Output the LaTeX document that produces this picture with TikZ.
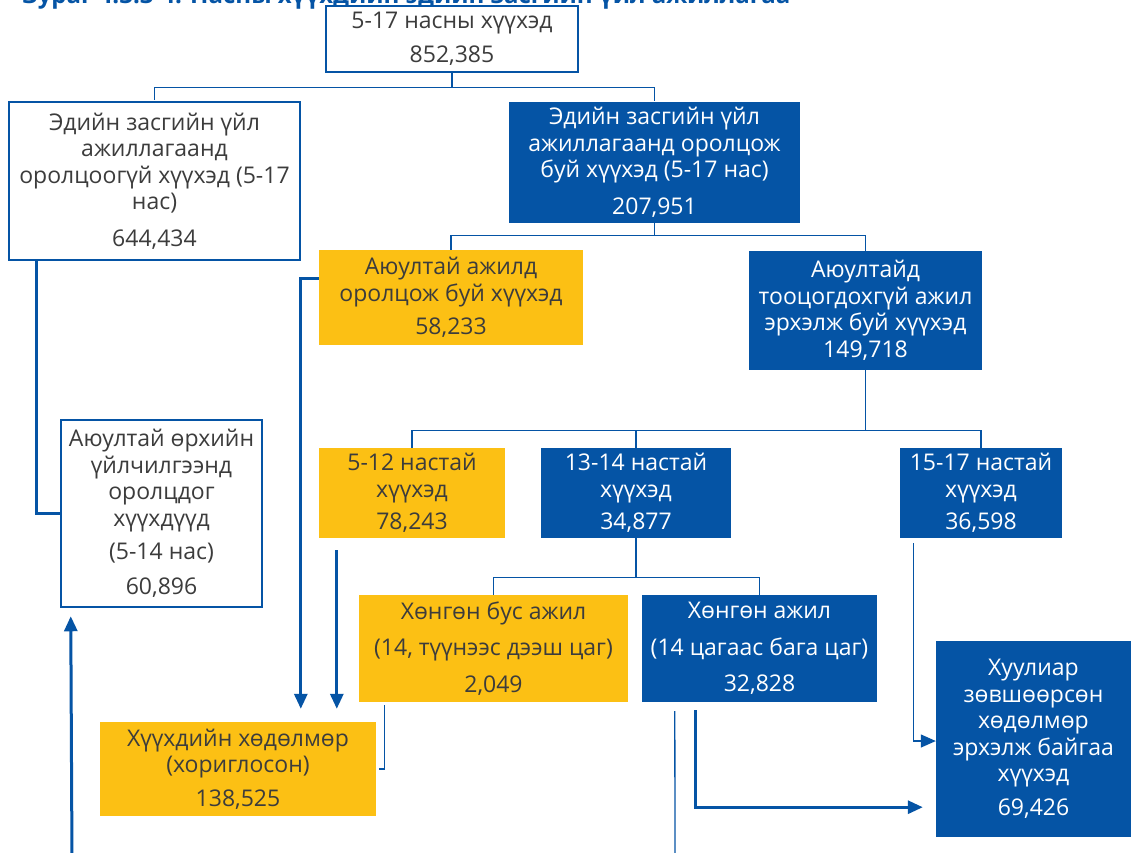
\documentclass[tikz,border=0pt]{standalone}
\usepackage{fontspec}
\setmainfont{Open Sans}
\usetikzlibrary{arrows.meta,calc}
\definecolor{cblue}{RGB}{5,84,165}
\definecolor{cyel}{RGB}{252,192,20}
\definecolor{ctext}{RGB}{60,60,60}
\tikzset{
 box/.style={rectangle, inner sep=0pt, align=center, font=\fontsize{23}{26.5}\selectfont},
 wbox/.style={box, draw=cblue, line width=2.5pt, fill=white, text=ctext},
 bbox/.style={box, fill=cblue, text=white},
 ybox/.style={box, fill=cyel, text=ctext},
 tline/.style={draw=cblue, line width=1.3pt},
 kline/.style={draw=cblue, line width=3pt},
 arr/.style={-{Triangle[length=15pt,width=13pt]}},
}
\begin{document}
\begin{tikzpicture}[x=1pt,y=-1pt]
\useasboundingbox (0,0) rectangle (1131,852);
\clip (0,0) rectangle (1131,852);
\fill[white] (0,0) rectangle (1131,852);
% title (cropped)
\node[anchor=base west, inner sep=0pt, text=cblue, font=\fontsize{24}{28}\selectfont\bfseries] (title) at (22,3) {Зураг 4.3.3-4. Насны хүүхдийн эдийн засгийн үйл ажиллагаа};
% boxes
\node[wbox, minimum width=252, minimum height=66] (top) at (452,39) {5-17 насны хүүхэд\\[7pt]852,385};
\node[wbox, minimum width=291, minimum height=158] (notpart) at (154.5,181) {Эдийн засгийн үйл\\ажиллагаанд\\оролцоогүй хүүхэд (5-17\\нас)\\[10pt]644,434};
\node[bbox, minimum width=291, minimum height=121] (part) at (654.5,162.5) {Эдийн засгийн үйл\\ажиллагаанд оролцож\\буй хүүхэд (5-17 нас)\\[10pt]207,951};
\node[ybox, minimum width=264, minimum height=95] (haz) at (451,297.5) {Аюултай ажилд\\оролцож буй хүүхэд\\[7pt]58,233};
\node[bbox, minimum width=233, minimum height=119] (nonhaz) at (865.5,310.5) {Аюултайд\\тооцогдохгүй ажил\\эрхэлж буй хүүхэд\\149,718};
\node[wbox, minimum width=201, minimum height=187] (house) at (161.5,513.5) {Аюултай өрхийн\\үйлчилгээнд\\оролцдог\\хүүхдүүд\\[7pt](5-14 нас)\\[8pt]60,896};
\node[ybox, minimum width=186, minimum height=90] (a512) at (412,493) {5-12 настай\\хүүхэд\\[6pt]78,243};
\node[bbox, minimum width=190, minimum height=90] (a1314) at (636,493) {13-14 настай\\хүүхэд\\[6pt]34,877};
\node[bbox, minimum width=162, minimum height=90] (a1517) at (981,493) {15-17 настай\\хүүхэд\\[6pt]36,598};
\node[ybox, minimum width=269, minimum height=107] (heavy) at (493.5,648.5) {Хөнгөн бус ажил\\[10pt](14, түүнээс дээш цаг)\\[10pt]2,049};
\node[bbox, minimum width=235, minimum height=107] (light) at (759.5,648.5) {Хөнгөн ажил\\[10pt](14 цагаас бага цаг)\\[10pt]32,828};
\node[ybox, minimum width=276, minimum height=94] (labor) at (238,769) {Хүүхдийн хөдөлмөр\\(хориглосон)\\[7pt]138,525};
\node[bbox, minimum width=195, minimum height=196] (legal) at (1033.5,739) {Хуулиар\\зөвшөөрсөн\\хөдөлмөр\\эрхэлж байгаа\\хүүхэд\\[7pt]69,426};
% tree connectors
\draw[tline] (top.south) -- ++(0,14) coordinate (j1) -| ($(notpart.north)+(0,-1)$);
\draw[tline] (j1) -| ($(part.north)+(0,-1)$);
\draw[tline] (part.south) -- ++(0,12) coordinate (j2) -| (haz.north);
\draw[tline] (j2) -| (nonhaz.north);
\draw[tline] (nonhaz.south) -- ++(0,60) coordinate (j3) -| (a512.north);
\draw[tline] (j3) -| (a1314.north);
\draw[tline] (j3) -| (a1517.north);
\draw[tline] (a1314.south) -- ++(0,39) coordinate (j4) -| (heavy.north);
\draw[tline] (j4) -| (light.north);
% other connectors
\draw[kline] ($(notpart.south west)+(29,0)$) |- (house.west);
\coordinate (hb) at (72,860);
\draw[kline, arr] (hb) -- ($(house.south west)+(11,8)$);
\draw[kline, arr] ($(haz.west)+(0,-19.5)$) -| ($(labor.north west)+(201,-13)$);
\draw[kline, arr] ($(a512.south west)+(18,12)$) -- ($(labor.north west)+(237,-13)$);
\draw[tline] ($(heavy.south west)+(26,3)$) |- ($(labor.east)+(3,0)$);
\draw[tline, arr] ($(a1517.south west)+(14,5)$) |- ($(legal.west)+(0,2)$);
\draw[kline, arr] ($(light.south west)+(54,8)$) |- ($(legal.south west)+(-13,-30)$);
\coordinate (lb) at (675,860);
\draw[tline] ($(light.south west)+(33,9)$) -- (lb);
\end{tikzpicture}
\end{document}
